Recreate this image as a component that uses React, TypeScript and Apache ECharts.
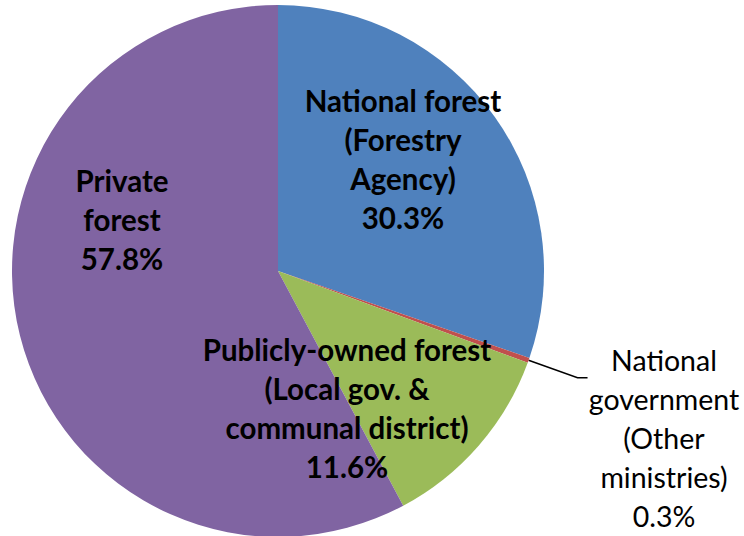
import React, { useEffect, useRef } from "react";
import * as echarts from "echarts";

const categories = [
  "National forest\n(Forestry\nAgency)",
  "National\ngovernment\n(Other\nministries)",
  "Publicly-owned forest\n(Local gov. &\ncommunal district)",
  "Private\nforest",
];
const values = [30.3, 0.3, 11.6, 57.8];
const colors = ["#4F81BD", "#C0504D", "#9BBB59", "#8064A2"];
const labelPos: [number, number][] = [
  [403, 159],
  [664, 438],
  [347, 408],
  [122, 219],
];
const CENTER: [number, number] = [278, 271];

export default function App() {
  const ref = useRef<HTMLDivElement>(null);
  useEffect(() => {
    if (!ref.current) return;
    const chart = echarts.init(ref.current, null, { renderer: "svg" });
    chart.setOption({
      animation: false,
      backgroundColor: "#ffffff",
      series: [
        {
          type: "pie",
          center: CENTER,
          radius: 266,
          startAngle: 90,
          clockwise: true,
          avoidLabelOverlap: false,
          itemStyle: { borderWidth: 0 },
          data: values.map((v, i) => ({
            name: categories[i],
            value: v,
            itemStyle: { color: colors[i] },
            label:
              i === 1
                ? { position: "outside", fontWeight: "normal", fontSize: 28.5 }
                : { position: "inside" },
            labelLine: i === 1 ? { show: true } : { show: false },
          })),
          label: {
            show: true,
            formatter: (p: any) => `${p.name}\n${p.value.toFixed(1)}%`,
            fontFamily: "Lato",
            fontSize: 29.5,
            fontWeight: "bold",
            lineHeight: 39,
            color: "#000",
            align: "center",
          },
          labelLine: {
            length: 52,
            length2: 10,
            lineStyle: { color: "#000", width: 1.5 },
          },
          labelLayout: (params: any) => {
            const p = labelPos[params.dataIndex];
            const out: any = { x: p[0], y: p[1], align: "center", verticalAlign: "middle" };
            const pts = params.labelLinePoints;
            if (pts && pts.length) {
              const p0 = pts[0];
              const dx = p0[0] - CENTER[0];
              const dy = p0[1] - CENTER[1];
              const d = Math.sqrt(dx * dx + dy * dy);
              const p1 = [p0[0] + (dx / d) * 52, p0[1] + (dy / d) * 52];
              const p2 = [p1[0] + 10, p1[1]];
              out.labelLinePoints = [p0, p1, p2];
            }
            return out;
          },
        },
      ],
    });
    return () => chart.dispose();
  }, []);
  return (
    <div
      ref={ref}
      style={{ position: "fixed", left: 0, top: 0, width: 744, height: 536 }}
    />
  );
}
